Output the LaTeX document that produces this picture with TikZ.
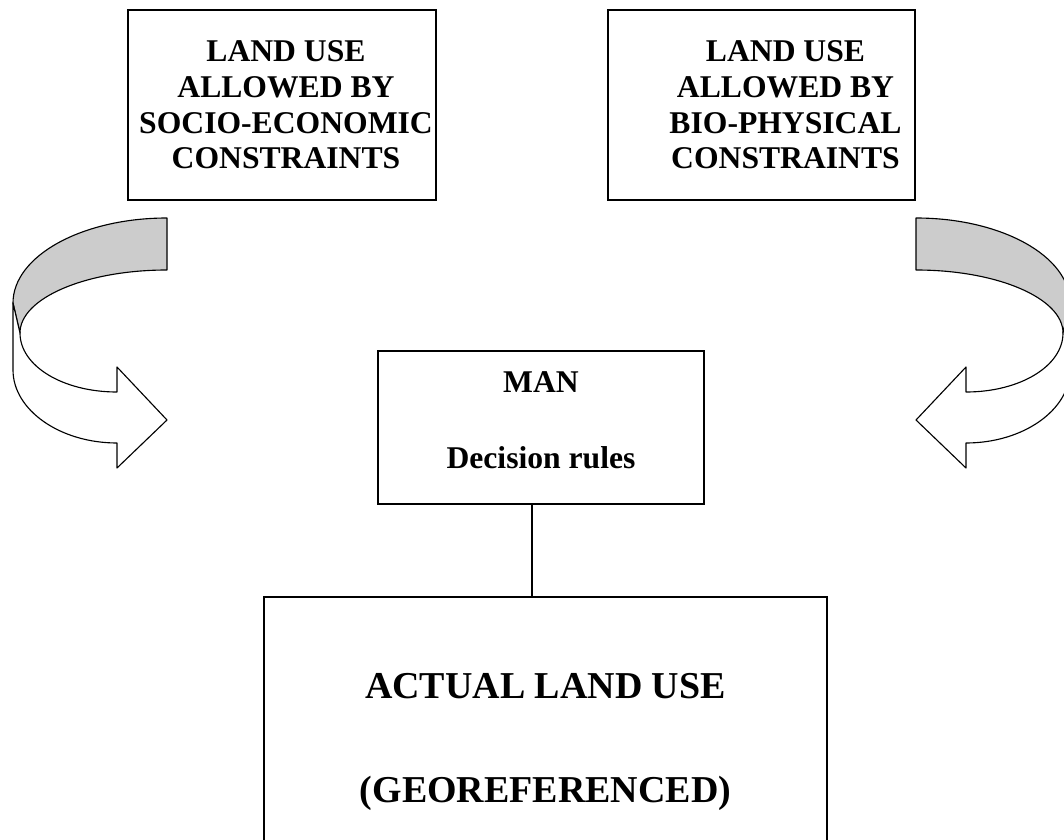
\documentclass[tikz,border=0pt]{standalone}
\usepackage{fontspec}
\setmainfont{Liberation Serif}
\usepackage{tikz}

% the bent ribbon arrow (left one, the right one is its mirror)
\newcommand{\bendarrow}{%
\filldraw[band,fill=black!20] (167,218) .. controls (82,218) and (13,256) .. (13,303)
  -- (20,333) .. controls (20,298) and (86,270) .. (167,270) -- cycle;
\filldraw[band,fill=white] (13,303) -- (13,370) .. controls (13,410) and (60,443) .. (117,443)
  -- (117,468) -- (167,420) -- (117,367) -- (117,392)
  .. controls (63,392) and (20,366) .. (20,333) -- cycle;
}

\begin{document}
\begin{tikzpicture}
[x=0.025cm,y=-0.025cm,
boxtext/.style={font=\bfseries\fontsize{22.5}{25.4}\selectfont,align=center,inner sep=0pt},
box/.style={boxtext,draw=black!100,line width=1.4pt},
bigbox/.style={box,font=\bfseries\fontsize{27}{74}\selectfont},
band/.style={draw=black!100,line width=0.8pt,line join=round}]
\useasboundingbox (0,0) rectangle (1064,840);
\clip (0,0) rectangle (1064,840);

\node[box,minimum width=7.675cm,minimum height=4.75cm,
  label={[boxtext,xshift=0.1cm]center:{LAND USE\\ALLOWED BY\\SOCIO-ECONOMIC\\CONSTRAINTS}}] (socio) at (282,105) {};
\node[box,minimum width=7.675cm,minimum height=4.75cm,
  label={[boxtext,xshift=0.6cm]center:{LAND USE\\ALLOWED BY\\BIO-PHYSICAL\\CONSTRAINTS}}] (bio) at (761.5,105) {};
\node[box,minimum width=8.15cm,minimum height=3.825cm,text depth=0.375cm] (man) at (541,427.5) {MAN\\[28.6pt]Decision rules};
\node[bigbox,minimum width=14.075cm,minimum height=7.225cm] (actual) at (545.5,741.5) {ACTUAL LAND USE\\(GEOREFERENCED)};

\draw [-,line width=0.9pt] ([xshift=-0.225cm]man.south) -- ([xshift=-0.225cm]man.south |- actual.north);

\bendarrow
\begin{scope}[shift={(1083,0)},xscale=-1]
\bendarrow
\end{scope}
\end{tikzpicture}
\end{document}
